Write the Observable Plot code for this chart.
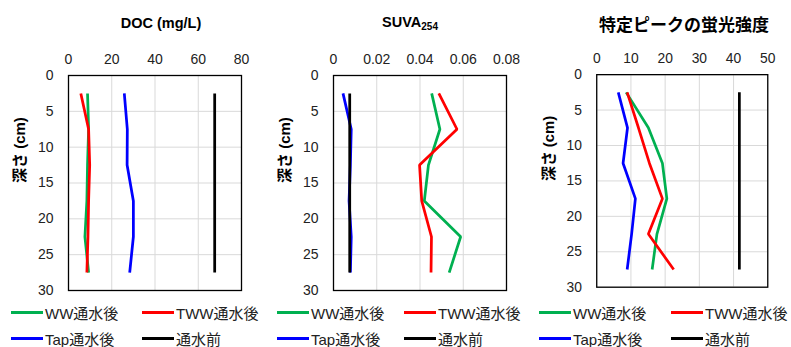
<!DOCTYPE html>
<html>
<head>
<meta charset="utf-8">
<script src="https://cdn.jsdelivr.net/npm/d3@7"></script>
<script src="https://cdn.jsdelivr.net/npm/@observablehq/plot@0.6"></script>
<style>
  html, body { margin: 0; padding: 0; background: #fff; }
  body { width: 791px; height: 347px; position: relative; overflow: hidden; font-family: "Liberation Sans", "Noto Sans CJK JP", sans-serif; }
  .panel { position: absolute; top: 0; }
  .title { position: absolute; transform: translate(-50%, -50%); font-weight: bold; white-space: nowrap; color: #000; }
  .title sub { font-size: 10px; vertical-align: -3px; }
  .leg { position: absolute; height: 22px; display: flex; align-items: center; }
  .leg .sw { width: 32px; height: 3px; margin-right: 2px; }
  .leg .tx { display: inline-block; font-size: 15px; white-space: nowrap; color: #222; }
</style>
</head>
<body>
<script>
// ---- data ----
const depths = [2.5, 7.5, 12.5, 17.5, 22.5, 27.5];
const seriesNames = ["WW通水後", "TWW通水後", "Tap通水後", "通水前"];
const seriesColors = ["#00B050", "#FF0000", "#0000FF", "#000000"];

// DOC (mg/L)
const docWW     = [8.8, 9.3, 8.8, 8.5, 7.6, 9.3];
const docTWW    = [5.7, 9.3, 9.8, 9.3, 9.0, 8.5];
const docTap    = [25.8, 27.2, 27.1, 30.0, 30.0, 28.3];
const docBefore = [67.6, 67.6, 67.6, 67.6, 67.6, 67.6];

// SUVA254
const suvaWW     = [0.0454, 0.0492, 0.0439, 0.0420, 0.0588, 0.0535];
const suvaTWW    = [0.0487, 0.0571, 0.0398, 0.0408, 0.0453, 0.0451];
const suvaTap    = [0.0044, 0.0082, 0.0078, 0.0072, 0.0082, 0.0078];
const suvaBefore = [0.0075, 0.0075, 0.0075, 0.0075, 0.0075, 0.0075];

// 特定ピークの蛍光強度
const flWW     = [8.6, 15.1, 19.2, 20.5, 17.6, 16.2];
const flTWW    = [8.9, 12.2, 15.4, 19.2, 15.1, 22.5];
const flTap    = [6.3, 9.0, 7.7, 11.3, 10.2, 8.9];
const flBefore = [41.7, 41.7, 41.7, 41.7, 41.7, 41.7];

// ticks
const depthTicks = [0, 5, 10, 15, 20, 25, 30];
const docTicks = [0, 20, 40, 60, 80];
const docTickLabels = ["0", "20", "40", "60", "80"];
const suvaTicks = [0, 0.02, 0.04, 0.06, 0.08];
const suvaTickLabels = ["0", "0.02", "0.04", "0.06", "0.08"];
const flTicks = [0, 10, 20, 30, 40, 50];
const flTickLabels = ["0", "10", "20", "30", "40", "50"];

const yLabel = "深さ (cm)";

function makeTable(seriesArrays) {
  const rows = [];
  seriesArrays.forEach((arr, si) => {
    arr.forEach((v, i) => rows.push({ series: seriesNames[si], depth: depths[i], value: v }));
  });
  return rows;
}

function makePanel(seriesArrays, ticks, tickLabels) {
  const data = makeTable(seriesArrays);
  const domain = [ticks[0], ticks[ticks.length - 1]];
  return Plot.plot({
    width: 265,
    height: 300,
    marginTop: 75,
    marginBottom: 10,
    marginLeft: 68,
    marginRight: 24,
    style: { fontFamily: "'Liberation Sans', 'Noto Sans CJK JP', sans-serif", fontSize: "14px", color: "#222", background: "transparent" },
    x: { domain, ticks },
    y: { domain: [0, 30], reverse: true, ticks: depthTicks },
    color: { domain: seriesNames, range: seriesColors },
    marks: [
      Plot.gridX(ticks, { stroke: "#d9d9d9", strokeOpacity: 1, strokeWidth: 1 }),
      Plot.gridY(depthTicks, { stroke: "#d9d9d9", strokeOpacity: 1, strokeWidth: 1 }),
      Plot.axisX(ticks, { anchor: "top", tickSize: 0, tickPadding: 12, fontSize: 14, label: null,
        tickFormat: d => tickLabels[ticks.indexOf(d)] }),
      Plot.axisY(depthTicks, { anchor: "left", tickSize: 0, tickPadding: 15, fontSize: 14, label: null }),
      Plot.line(data, { x: "value", y: "depth", z: "series", stroke: "series", strokeWidth: 2.75, strokeLinejoin: "miter", strokeLinecap: "butt" }),
      Plot.frame({ stroke: "#000", strokeWidth: 1.3 }),
      Plot.text([yLabel], { frameAnchor: "left", dx: -48, rotate: -90, fontWeight: "bold", fontSize: 15, fill: "#000" })
    ]
  });
}

const panels = [
  { left: 0,   chart: makePanel([docWW, docTWW, docTap, docBefore], docTicks, docTickLabels), title: "DOC (mg/L)", tx: 161, fs: 14.5, leg: [11, 142] },
  { left: 265, chart: makePanel([suvaWW, suvaTWW, suvaTap, suvaBefore], suvaTicks, suvaTickLabels), title: "SUVA<sub>254</sub>", tx: 410, fs: 14.5, leg: [277, 404] },
  { left: 529, chart: makePanel([flWW, flTWW, flTap, flBefore], flTicks, flTickLabels), title: "特定ピークの蛍光強度", tx: 684, fs: 17, leg: [539, 671] }
];

panels.forEach(p => {
  const div = document.createElement("div");
  div.className = "panel";
  div.style.left = p.left + "px";
  div.appendChild(p.chart);
  document.body.appendChild(div);

  const t = document.createElement("div");
  t.className = "title";
  t.style.left = p.tx + "px";
  t.style.top = "23px";
  t.style.fontSize = p.fs + "px";
  t.innerHTML = p.title;
  document.body.appendChild(t);

  const rowsY = [312, 338];
  seriesNames.forEach((name, i) => {
    const row = Math.floor(i / 2), col = i % 2;
    const item = document.createElement("div");
    item.className = "leg";
    item.style.left = p.leg[col] + "px";
    item.style.top = (rowsY[row] - 11) + "px";
    const sw = document.createElement("span");
    sw.className = "sw";
    sw.style.background = seriesColors[i];
    const tx = document.createElement("span");
    tx.className = "tx";
    tx.textContent = name;
    item.appendChild(sw);
    item.appendChild(tx);
    document.body.appendChild(item);
  });
});
</script>
</body>
</html>
